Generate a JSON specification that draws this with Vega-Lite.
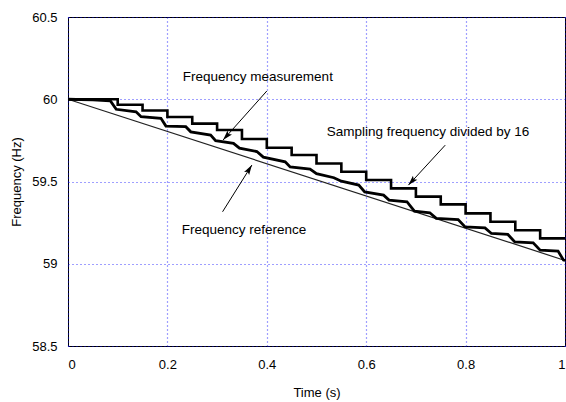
{
  "$schema": "https://vega.github.io/schema/vega-lite/v6.json",
  "width": 497,
  "height": 329,
  "autosize": {"type": "none"},
  "padding": {"left": 68, "top": 17, "right": 1, "bottom": 56},
  "background": "white",
  "config": {
    "font": "Liberation Sans",
    "view": {"stroke": "black", "strokeWidth": 1},
    "axis": {
      "labelFont": "Liberation Sans",
      "titleFont": "Liberation Sans",
      "labelFontSize": 13,
      "titleFontSize": 13,
      "titleFontWeight": "normal",
      "labelColor": "black",
      "titleColor": "black",
      "ticks": false,
      "domain": false,
      "grid": true,
      "gridColor": "#0000ff",
      "gridDash": [1, 3],
      "gridWidth": 1.2,
      "gridOpacity": 0.75
    }
  },
  "datasets": {
    "coarse": [
      {"t": 0, "f": 60},
      {"t": 0.1, "f": 59.967},
      {"t": 0.15, "f": 59.932},
      {"t": 0.2, "f": 59.892},
      {"t": 0.25, "f": 59.852},
      {"t": 0.3, "f": 59.813},
      {"t": 0.35, "f": 59.758},
      {"t": 0.4, "f": 59.705},
      {"t": 0.45, "f": 59.661},
      {"t": 0.5, "f": 59.609},
      {"t": 0.55, "f": 59.559},
      {"t": 0.6, "f": 59.509},
      {"t": 0.65, "f": 59.458},
      {"t": 0.7, "f": 59.408},
      {"t": 0.75, "f": 59.361},
      {"t": 0.8, "f": 59.306},
      {"t": 0.85, "f": 59.255},
      {"t": 0.9, "f": 59.204},
      {"t": 0.95, "f": 59.154},
      {"t": 1.0, "f": 59.154}
    ],
    "fine": [
      {"t": 0, "f": 60},
      {"t": 0.05, "f": 59.996},
      {"t": 0.085, "f": 59.991},
      {"t": 0.097, "f": 59.939},
      {"t": 0.137, "f": 59.924},
      {"t": 0.147, "f": 59.894},
      {"t": 0.187, "f": 59.884},
      {"t": 0.197, "f": 59.837},
      {"t": 0.237, "f": 59.833},
      {"t": 0.247, "f": 59.802},
      {"t": 0.287, "f": 59.782},
      {"t": 0.297, "f": 59.748},
      {"t": 0.333, "f": 59.732},
      {"t": 0.345, "f": 59.703},
      {"t": 0.38, "f": 59.682},
      {"t": 0.393, "f": 59.648},
      {"t": 0.437, "f": 59.62},
      {"t": 0.447, "f": 59.589},
      {"t": 0.487, "f": 59.575},
      {"t": 0.5, "f": 59.548},
      {"t": 0.535, "f": 59.523},
      {"t": 0.55, "f": 59.502},
      {"t": 0.585, "f": 59.478},
      {"t": 0.597, "f": 59.437},
      {"t": 0.635, "f": 59.417},
      {"t": 0.646, "f": 59.387},
      {"t": 0.682, "f": 59.377},
      {"t": 0.697, "f": 59.32},
      {"t": 0.728, "f": 59.31},
      {"t": 0.741, "f": 59.276},
      {"t": 0.785, "f": 59.269},
      {"t": 0.799, "f": 59.224},
      {"t": 0.839, "f": 59.218},
      {"t": 0.852, "f": 59.184},
      {"t": 0.885, "f": 59.178},
      {"t": 0.899, "f": 59.133},
      {"t": 0.936, "f": 59.127},
      {"t": 0.95, "f": 59.083},
      {"t": 0.986, "f": 59.077},
      {"t": 0.997, "f": 59.022},
      {"t": 1.0, "f": 59.02}
    ],
    "reference": [
      {"t": 0, "f": 60},
      {"t": 1, "f": 59.02}
    ],
    "labels": [
      {"t": 0.231, "f": 60.135, "text": "Frequency measurement"},
      {"t": 0.229, "f": 59.204, "text": "Frequency reference"},
      {"t": 0.5205, "f": 59.802, "text": "Sampling frequency divided by 16"}
    ],
    "arrows": [
      {"name": "measurement", "t1": 0.4, "f1": 60.05, "t2": 0.312, "f2": 59.752},
      {"name": "reference", "t1": 0.311, "f1": 59.316, "t2": 0.37, "f2": 59.6},
      {"name": "sampling", "t1": 0.759, "f1": 59.721, "t2": 0.685, "f2": 59.478}
    ]
  },
  "encoding": {
    "x": {
      "field": "t",
      "type": "quantitative",
      "scale": {"domain": [0, 1], "nice": false, "zero": false},
      "axis": {"title": "Time (s)", "values": [0, 0.2, 0.4, 0.6, 0.8, 1], "format": "~g", "labelPadding": 12, "titlePadding": 15}
    },
    "y": {
      "field": "f",
      "type": "quantitative",
      "scale": {"domain": [58.5, 60.5], "nice": false, "zero": false},
      "axis": {"title": "Frequency (Hz)", "values": [58.5, 59, 59.5, 60, 60.5], "format": "~g", "labelPadding": 11, "titlePadding": 8}
    }
  },
  "layer": [
    {
      "data": {"name": "reference"},
      "mark": {"type": "line", "color": "#222222", "strokeWidth": 1.2}
    },
    {
      "data": {"name": "coarse"},
      "mark": {"type": "line", "color": "black", "strokeWidth": 2.6, "interpolate": "step-after"}
    },
    {
      "data": {"name": "fine"},
      "mark": {"type": "line", "color": "black", "strokeWidth": 2.8, "interpolate": "linear"}
    },
    {
      "data": {"name": "labels"},
      "mark": {"type": "text", "align": "left", "baseline": "middle", "fontSize": 13.5, "font": "Liberation Sans", "color": "black"},
      "encoding": {"text": {"field": "text"}}
    },
    {
      "data": {"name": "arrows"},
      "mark": {"type": "rule", "color": "black", "strokeWidth": 1},
      "encoding": {
        "x": {"field": "t1", "type": "quantitative"},
        "y": {"field": "f1", "type": "quantitative"},
        "x2": {"field": "t2"},
        "y2": {"field": "f2"}
      }
    },
    {
      "data": {"name": "arrows"},
      "transform": [{"filter": "datum.name == 'measurement'"}],
      "mark": {"type": "point", "shape": "M0,0L-0.3,1L0,0.8L0.3,1Z", "filled": true, "color": "black", "opacity": 1, "size": 400, "angle": 222},
      "encoding": {
        "x": {"field": "t2", "type": "quantitative"},
        "y": {"field": "f2", "type": "quantitative"}
      }
    },
    {
      "data": {"name": "arrows"},
      "transform": [{"filter": "datum.name == 'reference'"}],
      "mark": {"type": "point", "shape": "M0,0L-0.3,1L0,0.8L0.3,1Z", "filled": true, "color": "black", "opacity": 1, "size": 400, "angle": 32},
      "encoding": {
        "x": {"field": "t2", "type": "quantitative"},
        "y": {"field": "f2", "type": "quantitative"}
      }
    },
    {
      "data": {"name": "arrows"},
      "transform": [{"filter": "datum.name == 'sampling'"}],
      "mark": {"type": "point", "shape": "M0,0L-0.3,1L0,0.8L0.3,1Z", "filled": true, "color": "black", "opacity": 1, "size": 400, "angle": 222},
      "encoding": {
        "x": {"field": "t2", "type": "quantitative"},
        "y": {"field": "f2", "type": "quantitative"}
      }
    }
  ]
}
